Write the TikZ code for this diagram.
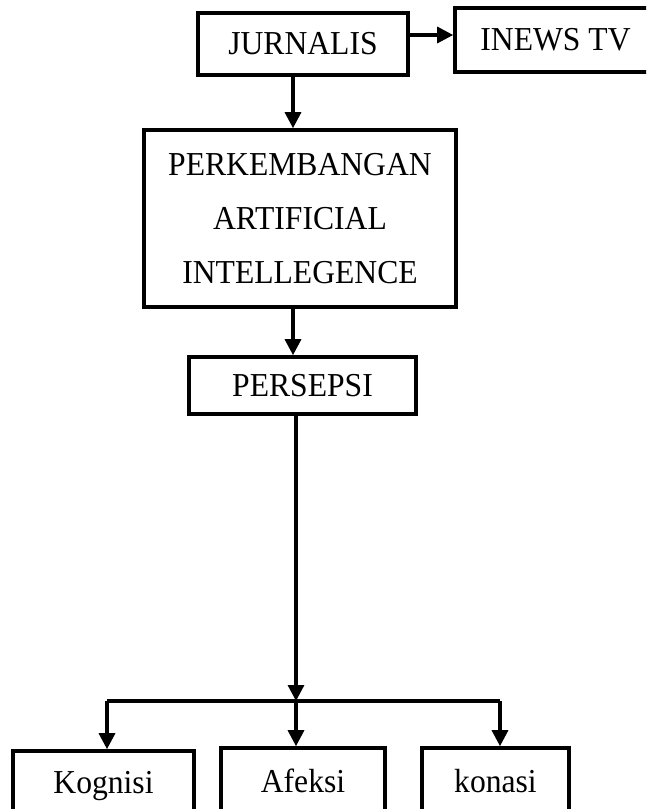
\documentclass[tikz,border=0pt]{standalone}
\usepackage{fontspec}
\setmainfont{Liberation Serif}
\usetikzlibrary{arrows.meta}
\newcommand{\tallt}[1]{\scalebox{1.02}[1.08]{\begin{tabular}{@{}c@{}}#1\end{tabular}}}
\begin{document}
\begin{tikzpicture}[x=1pt,y=-1pt,
  box/.style={draw=black,line width=3.6pt,fill=white,inner sep=0pt,align=center,
    font=\fontsize{31}{50}\selectfont},
  ln/.style={line width=3.2pt,draw=black},
  arr/.style={ln,-{Triangle[length=16pt,width=16pt]}}]
\useasboundingbox (0,0) rectangle (646,809);
\clip (0,0) rectangle (646,809);
\node[box,minimum width=210pt,minimum height=62pt] (J) at (303,44) {\tallt{JURNALIS}};
\node[box,minimum width=201pt,minimum height=64pt] (I) at (555.5,40) {\tallt{INEWS TV}};
\node[box,minimum width=312pt,minimum height=177pt] (P) at (300,218.5) {\tallt{PERKEMBANGAN\\ARTIFICIAL\\INTELLEGENCE}};
\node[box,minimum width=227pt,minimum height=57pt] (S) at (302.5,385.5) {\tallt{PERSEPSI}};
\node[box,minimum width=181pt,minimum height=64pt] (K) at (103.5,783) {\tallt{Kognisi}};
\node[box,minimum width=164pt,minimum height=67pt] (A) at (303,781.5) {\tallt{Afeksi}};
\node[box,minimum width=147pt,minimum height=67pt] (C) at (495.5,781.5) {\tallt{konasi}};
\draw[arr] ([yshift=9pt]J.east) -- ([yshift=9pt]J.east -| I.west);
\draw[arr] ([xshift=-10pt]J.south) -- ([xshift=-10pt]J.south |- P.north);
\draw[arr] ([xshift=-7pt]P.south) -- ([xshift=-7pt]P.south |- S.north);
\coordinate (bm) at (296,701);
\coordinate (bl) at (107,701);
\coordinate (br) at (500,701);
\draw[arr] (S.south -| bm) -- (bm);
\draw[ln] (bl) -- (br);
\draw[arr] (bl) -- (bl |- K.north);
\draw[arr] (bm) -- (bm |- A.north);
\draw[arr] (br) -- (br |- C.north);
\end{tikzpicture}
\end{document}
